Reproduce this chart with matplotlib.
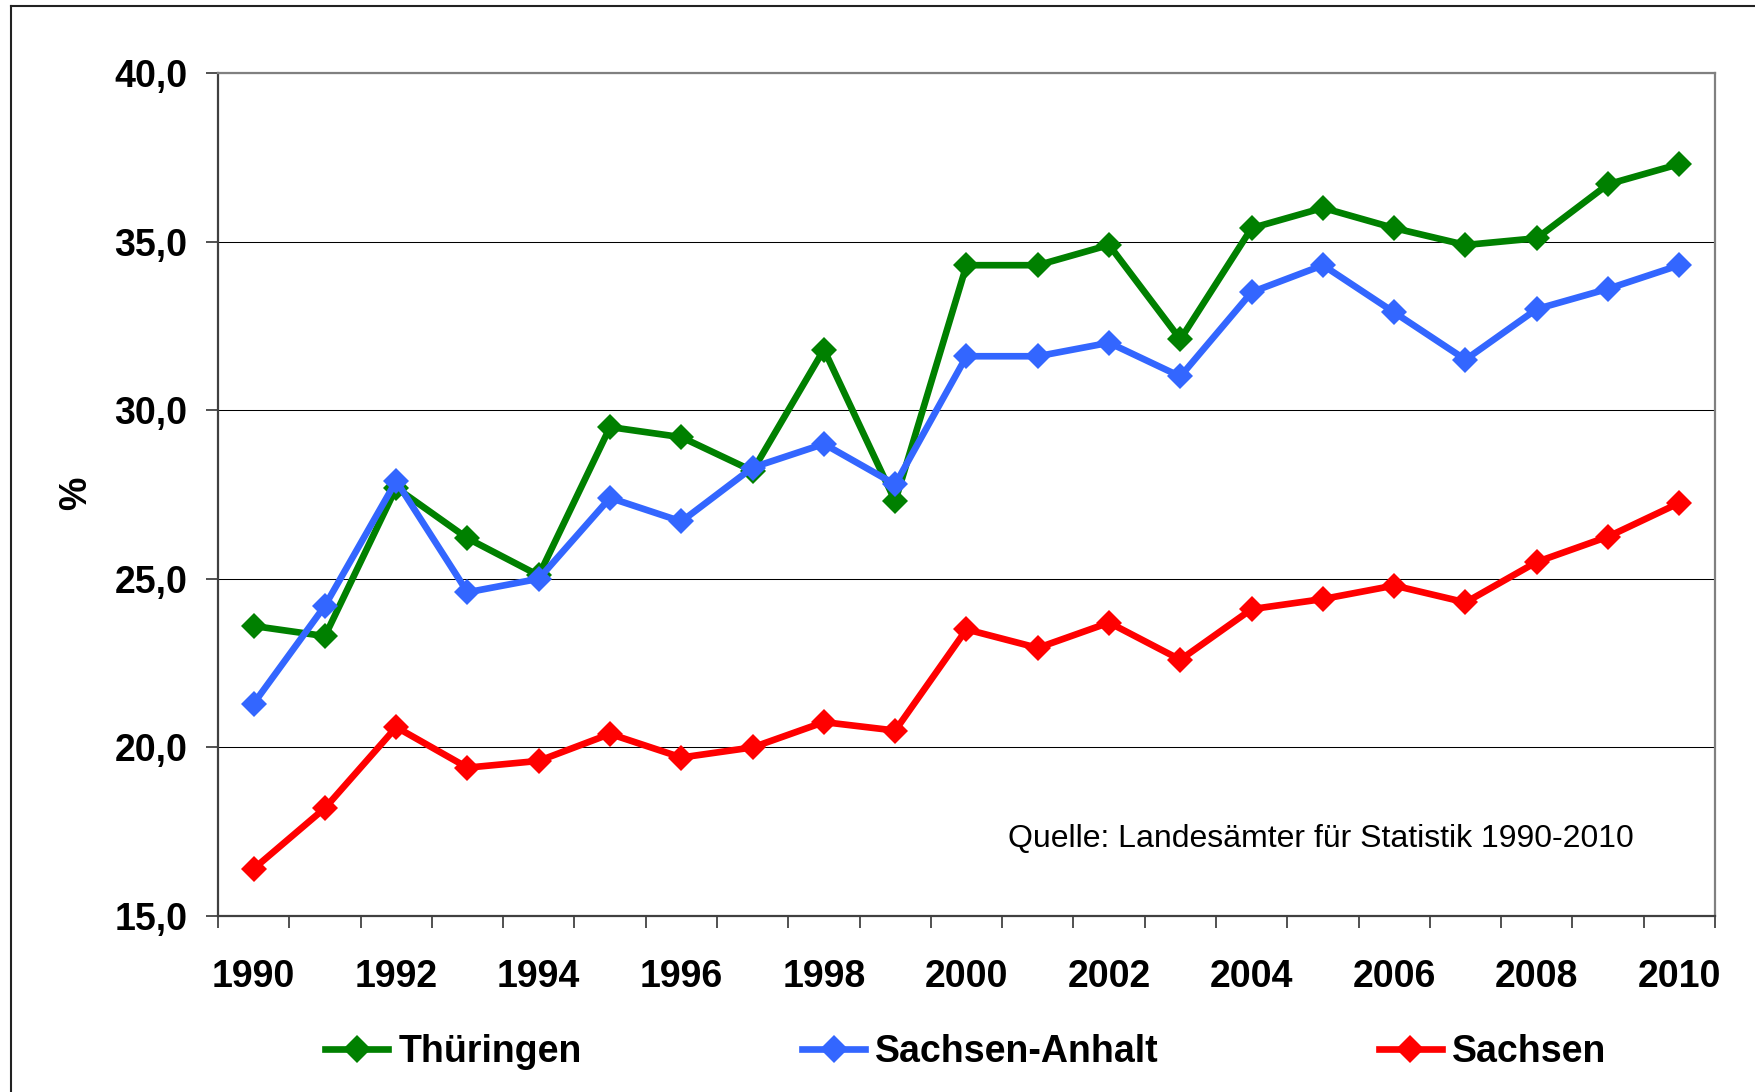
import matplotlib
matplotlib.use("Agg")

import matplotlib.pyplot as plt
from matplotlib.lines import Line2D

# data (% values, 1990-2010)
YEARS = list(range(1990, 2011))

THUERINGEN = [23.6, 23.3, 27.7, 26.2, 25.1, 29.5, 29.2, 28.2, 31.8, 27.3,
              34.3, 34.3, 34.9, 32.1, 35.4, 36.0, 35.4, 34.9, 35.1, 36.7, 37.3]
SACHSEN_ANHALT = [21.3, 24.2, 27.9, 24.6, 25.0, 27.4, 26.7, 28.3, 29.0, 27.8,
                  31.6, 31.6, 32.0, 31.0, 33.5, 34.3, 32.9, 31.5, 33.0, 33.6, 34.3]
SACHSEN = [16.4, 18.2, 20.6, 19.4, 19.6, 20.4, 19.7, 20.0, 20.75, 20.5,
           23.5, 22.95, 23.7, 22.6, 24.1, 24.4, 24.8, 24.3, 25.5, 26.25, 27.25]

SERIES_NAMES = ["Thüringen", "Sachsen-Anhalt", "Sachsen"]
SERIES_COLORS = ["#008000", "#3366FF", "#FF0000"]

Y_TICKS = [15, 20, 25, 30, 35, 40]
Y_TICK_LABELS = ["15,0", "20,0", "25,0", "30,0", "35,0", "40,0"]

SOURCE = "Quelle: Landesämter für Statistik 1990-2010"

plt.rcParams.update({
    "font.family": ["Liberation Sans", "DejaVu Sans"],
    "font.weight": "bold",
})

W, H = 1756, 1092
fig = plt.figure(figsize=(W / 100, H / 100), dpi=100, facecolor="white")
ax = fig.add_axes([218 / W, 1 - 916 / H, (1715 - 218) / W, (916 - 73) / H])

x = list(range(len(YEARS)))
for i, (vals, name, color) in enumerate(zip([THUERINGEN, SACHSEN_ANHALT, SACHSEN],
                                             SERIES_NAMES, SERIES_COLORS)):
    ax.plot(x, vals, color=color, linewidth=4.8, marker="D", markersize=13.5,
            markeredgewidth=0, label=name, zorder=3 + i, clip_on=False)

ax.set_xlim(-0.5, len(YEARS) - 0.5)
ax.set_ylim(15, 40)

# y axis
ax.set_yticks(Y_TICKS)
ax.set_yticklabels(Y_TICK_LABELS)
ax.tick_params(axis="y", direction="out", length=8.6, width=1.2, color="#333333",
               pad=13.5, labelsize=27)
ax.yaxis.grid(True, color="#000000", linewidth=0.75, zorder=1)
ax.set_axisbelow(True)

# x axis: ticks between categories, labels every second year
ax.set_xticks([v - 0.5 for v in range(len(YEARS) + 1)])
ax.set_xticklabels([])
ax.set_xticks(x[::2], minor=True)
ax.set_xticklabels([str(y) for y in YEARS[::2]], minor=True)
ax.tick_params(axis="x", which="major", direction="out", length=8.6, width=1.2,
               color="#333333")
ax.tick_params(axis="x", which="minor", length=0, pad=31, labelsize=27)

for side in ["left", "bottom"]:
    ax.spines[side].set_color("#404040")
    ax.spines[side].set_linewidth(1.6)
for side in ["top", "right"]:
    ax.spines[side].set_color("#808080")
    ax.spines[side].set_linewidth(1.6)

fig.text(76 / W, 1 - 493 / H, "%", rotation=90, fontsize=27, fontweight="bold",
         ha="center", va="center")

fig.text(1008 / W, 1 - 847 / H, SOURCE, fontsize=23, fontweight="normal",
         ha="left", va="baseline")

handles = [Line2D([0], [0], color=c, linewidth=4.8, marker="D", markersize=14.5,
                  markeredgewidth=0) for c in SERIES_COLORS]
fig.legend(handles, SERIES_NAMES, loc="center", ncol=3, frameon=False,
           bbox_to_anchor=(966 / W, 1 - 1052 / H), fontsize=27,
           handlelength=1.68, handletextpad=0.27, columnspacing=5.87,
           borderpad=0, numpoints=1)

# outer chart border (left and top visible)
fig.add_artist(Line2D([11 / W, 11 / W], [0, 1 - 6 / H], color="#222222",
                      linewidth=1.5, transform=fig.transFigure))
fig.add_artist(Line2D([11 / W, 1], [1 - 6 / H, 1 - 6 / H], color="#222222",
                      linewidth=1.5, transform=fig.transFigure))

fig.savefig("out.png", dpi=100, facecolor="white")
